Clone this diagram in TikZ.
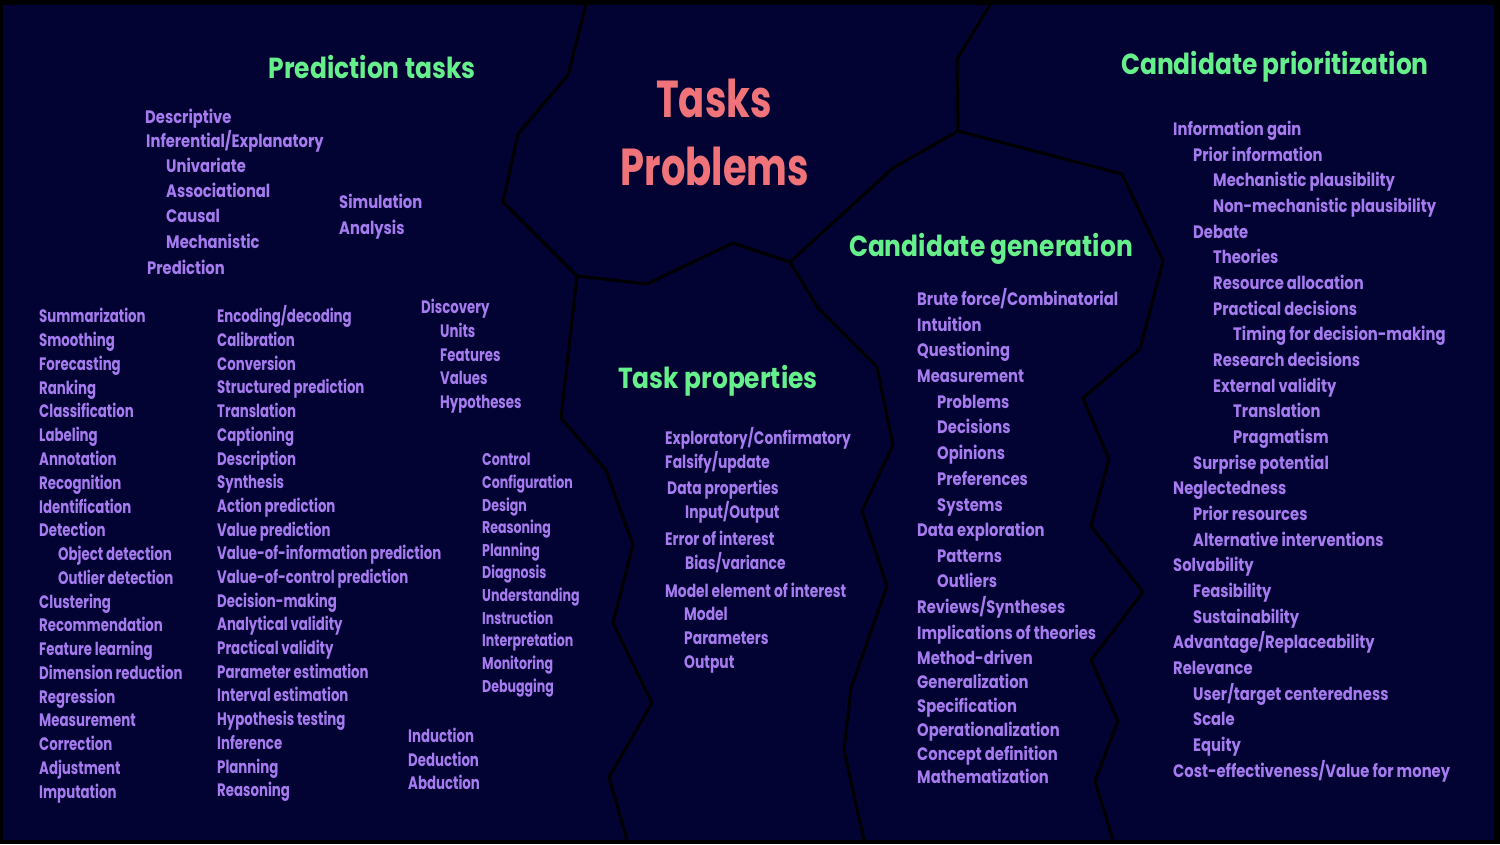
\documentclass[tikz,border=0pt]{standalone}
\usepackage{fontspec}
\setmainfont{Poppins Bold}[FakeStretch=0.74]
\newfontfamily\fB{Poppins Bold}[FakeStretch=0.82]
\newfontfamily\fC{Poppins Bold}[FakeStretch=0.77]
\newfontfamily\fT{Poppins Bold}[FakeStretch=0.86]
\definecolor{bg}{HTML}{020233}
\definecolor{itemc}{HTML}{A77BF0}
\definecolor{ttlc}{HTML}{66F08C}
\definecolor{bigc}{HTML}{F0737A}
\newcounter{itmc}
\newcommand\itm[3]{\stepcounter{itmc}\node[itm] (n\arabic{itmc}) at (#1,#2+6) {#3};}
\newcommand\itmS[3]{\stepcounter{itmc}\node[itm,font=\fontsize{17}{19}\selectfont] (n\arabic{itmc}) at (#1,#2+6) {#3};}
\newcommand\itmB[3]{\stepcounter{itmc}\node[itm,font=\fontsize{18}{20}\fB] (n\arabic{itmc}) at (#1,#2+6) {#3};}
\newcommand\itmC[3]{\stepcounter{itmc}\node[itm,font=\fontsize{18}{20}\fC] (n\arabic{itmc}) at (#1,#2+6) {#3};}
\begin{document}
\begin{tikzpicture}[x=1pt,y=-1pt,
  itm/.style={anchor=base west,inner sep=0pt,text=itemc,font=\fontsize{18}{20}\selectfont},
  ttl/.style={anchor=base,inner sep=0pt,text=ttlc,font=\fontsize{29}{32}\fT},
  big/.style={anchor=base,inner sep=0pt,text=bigc,font=\fontsize{52}{56}\selectfont},
  bline/.style={line width=3pt,black,line join=round}]
\useasboundingbox (0,0) rectangle (1500,844);
\fill[black] (0,0) rectangle (1500,844);
\fill[bg] (3,5) rectangle (1494,840);
% boundaries
\draw[bline] (586,5) -- (568,75) -- (518,134) -- (503,202) -- (577,276);
\draw[bline] (577,276) -- (647,284) -- (733,243) -- (790,262);
\draw[bline] (790,262) -- (893,168) -- (958,131);
\draw[bline] (958,131) -- (957,59) -- (990,5);
\draw[bline] (958,131) -- (1122,174) -- (1163,261) -- (1140,349) -- (1083,398) -- (1109,459) -- (1091,526) -- (1143,592) -- (1091,660) -- (1118,721) -- (1095,781) -- (1113,840);
\draw[bline] (790,262) -- (818,308) -- (877,367) -- (893,445) -- (862,511) -- (887,586) -- (851,688) -- (844,750) -- (864,840);
\draw[bline] (577,276) -- (561,418) -- (606,470) -- (633,545) -- (613,623) -- (652,703) -- (609,777) -- (627,840);
% big title
\node[big] (tasks) at (714,117) {Tasks};
\node[big] (problems) at (715,185) {Problems};
% titles
\node[ttl] (tpred) at (372,78) {Prediction tasks};
\node[ttl] (tprop) at (718,388) {Task properties};
\node[ttl] (tgen) at (991,256) {Candidate generation};
\node[ttl] (tprio) at (1275,74) {Candidate prioritization};
% prediction tasks
\itmB{145}{117}{Descriptive}
\itmB{146}{141}{Inferential/Explanatory}
\itmB{166}{166}{Univariate}
\itmB{166}{191}{Associational}
\itmB{166}{216}{Causal}
\itmB{166}{242}{Mechanistic}
\itmB{147}{268}{Prediction}
\itmB{339}{202}{Simulation}
\itmB{339}{228}{Analysis}
% column 1
\itm{39}{316}{Summarization}
\itm{39}{340}{Smoothing}
\itm{39}{364}{Forecasting}
\itm{39}{388}{Ranking}
\itm{39}{411}{Classification}
\itm{39}{435}{Labeling}
\itm{39}{459}{Annotation}
\itm{39}{483}{Recognition}
\itm{39}{507}{Identification}
\itm{39}{530}{Detection}
\itm{58}{554}{Object detection}
\itm{58}{578}{Outlier detection}
\itm{39}{602}{Clustering}
\itm{39}{625}{Recommendation}
\itm{39}{649}{Feature learning}
\itm{39}{673}{Dimension reduction}
\itm{39}{697}{Regression}
\itm{39}{720}{Measurement}
\itm{39}{744}{Correction}
\itm{39}{768}{Adjustment}
\itm{39}{792}{Imputation}
% column 2
\itm{217}{316}{Encoding/decoding}
\itm{217}{340}{Calibration}
\itm{217}{364}{Conversion}
\itm{217}{387}{Structured prediction}
\itm{217}{411}{Translation}
\itm{217}{435}{Captioning}
\itm{217}{459}{Description}
\itm{217}{482}{Synthesis}
\itm{217}{506}{Action prediction}
\itm{217}{530}{Value prediction}
\itm{217}{553}{Value-of-information prediction}
\itm{217}{577}{Value-of-control prediction}
\itm{217}{601}{Decision-making}
\itm{217}{624}{Analytical validity}
\itm{217}{648}{Practical validity}
\itm{217}{672}{Parameter estimation}
\itm{217}{695}{Interval estimation}
\itm{217}{719}{Hypothesis testing}
\itm{217}{743}{Inference}
\itm{217}{767}{Planning}
\itm{217}{790}{Reasoning}
% column 3
\itm{421}{307}{Discovery}
\itm{440}{331}{Units}
\itm{440}{355}{Features}
\itm{440}{378}{Values}
\itm{440}{402}{Hypotheses}
% column 4
\itmS{482}{459}{Control}
\itmS{482}{482}{Configuration}
\itmS{482}{505}{Design}
\itmS{482}{527}{Reasoning}
\itmS{482}{550}{Planning}
\itmS{482}{572}{Diagnosis}
\itmS{482}{595}{Understanding}
\itmS{482}{618}{Instruction}
\itmS{482}{640}{Interpretation}
\itmS{482}{663}{Monitoring}
\itmS{482}{686}{Debugging}
% column 5
\itm{408}{736}{Induction}
\itm{408}{760}{Deduction}
\itm{408}{783}{Abduction}
% task properties
\itmC{665}{438}{Exploratory/Confirmatory}
\itmC{665}{462}{Falsify/update}
\itmC{667}{488}{Data properties}
\itmC{685}{512}{Input/Output}
\itmC{665}{539}{Error of interest}
\itmC{685}{563}{Bias/variance}
\itmC{665}{591}{Model element of interest}
\itmC{684}{614}{Model}
\itmC{684}{638}{Parameters}
\itmC{684}{662}{Output}
% candidate generation
\itmB{917}{299}{Brute force/Combinatorial}
\itmB{917}{325}{Intuition}
\itmB{917}{350}{Questioning}
\itmB{917}{376}{Measurement}
\itmB{937}{402}{Problems}
\itmB{937}{427}{Decisions}
\itmB{937}{453}{Opinions}
\itmB{937}{479}{Preferences}
\itmB{937}{505}{Systems}
\itmB{917}{530}{Data exploration}
\itmB{937}{556}{Patterns}
\itmB{937}{581}{Outliers}
\itmB{917}{607}{Reviews/Syntheses}
\itmB{917}{633}{Implications of theories}
\itmB{917}{658}{Method-driven}
\itmB{917}{682}{Generalization}
\itmB{917}{706}{Specification}
\itmB{917}{730}{Operationalization}
\itmB{917}{754}{Concept definition}
\itmB{917}{777}{Mathematization}
% candidate prioritization
\itmB{1173}{129}{Information gain}
\itmB{1193}{155}{Prior information}
\itmB{1213}{180}{Mechanistic plausibility}
\itmB{1213}{206}{Non-mechanistic plausibility}
\itmB{1193}{232}{Debate}
\itmB{1213}{257}{Theories}
\itmB{1213}{283}{Resource allocation}
\itmB{1213}{309}{Practical decisions}
\itmB{1233}{334}{Timing for decision-making}
\itmB{1213}{360}{Research decisions}
\itmB{1213}{386}{External validity}
\itmB{1233}{411}{Translation}
\itmB{1233}{437}{Pragmatism}
\itmB{1193}{463}{Surprise potential}
\itmB{1173}{488}{Neglectedness}
\itmB{1193}{514}{Prior resources}
\itmB{1193}{540}{Alternative interventions}
\itmB{1173}{565}{Solvability}
\itmB{1193}{591}{Feasibility}
\itmB{1193}{617}{Sustainability}
\itmB{1173}{642}{Advantage/Replaceability}
\itmB{1173}{668}{Relevance}
\itmB{1193}{694}{User/target centeredness}
\itmB{1193}{719}{Scale}
\itmB{1193}{745}{Equity}
\itmB{1173}{771}{Cost-effectiveness/Value for money}
\end{tikzpicture}
\end{document}
